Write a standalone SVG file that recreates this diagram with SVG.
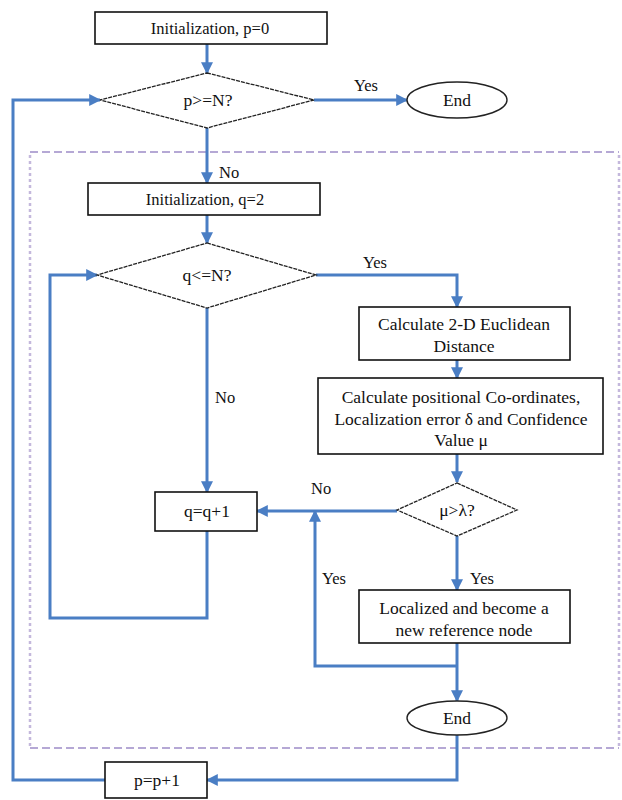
<svg xmlns="http://www.w3.org/2000/svg" width="622" height="800" viewBox="0 0 622 800">
<defs>
<style>
.n{fill:#fff;stroke:#111;stroke-width:1.6}
.d{fill:#fff;stroke:#222;stroke-width:1.3;stroke-dasharray:4 1}
.e{fill:#fff;stroke:#222;stroke-width:1.4}
.t{font-size:17.5px;fill:#111;text-anchor:middle}
.s{font-size:16.5px;fill:#111;text-anchor:middle}
.l{font-size:16.5px;fill:#111}
.a{fill:none;stroke:#4a7ec4;stroke-width:3;marker-end:url(#ah)}
.bh{fill:none;stroke:#9d8cc8;stroke-width:1.5;stroke-dasharray:8 4}
.bv{fill:none;stroke:#c4b8dc;stroke-width:2.5;stroke-dasharray:3 3}
</style>
<marker id="ah" viewBox="0 0 10 10" refX="9" refY="5" markerWidth="4" markerHeight="4" orient="auto" markerUnits="strokeWidth">
<path d="M0,0 L10,5 L0,10 z" fill="#4a7ec4"/>
</marker>
</defs>
<g id="boundary">
<line class="bh" x1="30" y1="152" x2="619" y2="152"/>
<line class="bh" x1="30" y1="748" x2="619" y2="748"/>
<line class="bv" x1="30" y1="155" x2="30" y2="746"/>
<line class="bv" x1="619" y1="155" x2="619" y2="746"/>
</g>
<g id="connectors">
<path class="a" d="M207,44 V73"/>
<path class="a" d="M314,100 H407"/>
<path class="a" d="M207,128 V183"/>
<path class="a" d="M207,215 V243"/>
<path class="a" d="M207,308 V492"/>
<path class="a" d="M316,275 H457 V307"/>
<path class="a" d="M457,360 V378"/>
<path class="a" d="M457,454 V482"/>
<path class="a" d="M397,511 H257"/>
<path class="a" d="M457,536 V590"/>
<path class="a" d="M457,643 V701"/>
<path class="a" d="M457,666 H315 V511"/>
<path class="a" d="M207,531 V618 H50 V275 H97"/>
<path class="a" d="M457,735 V780 H207"/>
<path class="a" d="M105,780 H13 V100 H100"/>
</g>
<g id="labels" font-family="Liberation Serif">
<text class="l" x="354" y="91">Yes</text>
<text class="l" x="219" y="178">No</text>
<text class="l" x="363" y="268">Yes</text>
<text class="l" x="215" y="403">No</text>
<text class="l" x="311" y="494">No</text>
<text class="l" x="470" y="584">Yes</text>
<text class="l" x="322" y="584">Yes</text>
</g>
<g id="init-p" font-family="Liberation Serif">
<rect class="n" x="95" y="12" width="232" height="32"/>
<text class="s" x="210" y="33.5">Initialization, p=0</text>
</g>
<g id="dec-p" font-family="Liberation Serif">
<polygon class="d" points="207,73 314,100 207,128 100,100"/>
<text class="t" x="208" y="106">p&gt;=N?</text>
</g>
<g id="end-1" font-family="Liberation Serif">
<ellipse class="e" cx="457" cy="100" rx="50" ry="18"/>
<text class="t" x="457" y="106">End</text>
</g>
<g id="init-q" font-family="Liberation Serif">
<rect class="n" x="88" y="183" width="232" height="32"/>
<text class="s" x="205" y="204.5">Initialization, q=2</text>
</g>
<g id="dec-q" font-family="Liberation Serif">
<polygon class="d" points="207,243 316,275 207,308 97,275"/>
<text class="t" x="207" y="281">q&lt;=N?</text>
</g>
<g id="calc-dist" font-family="Liberation Serif">
<rect class="n" x="359" y="307" width="211" height="53"/>
<text class="t" x="464" y="330">Calculate 2-D Euclidean</text>
<text class="t" x="464" y="352">Distance</text>
</g>
<g id="calc-pos" font-family="Liberation Serif">
<rect class="n" x="318" y="378" width="285" height="76"/>
<text class="t" x="461" y="403">Calculate positional Co-ordinates,</text>
<text class="t" x="461" y="424.5">Localization error &#948; and Confidence</text>
<text class="t" x="461" y="446">Value &#956;</text>
</g>
<g id="dec-mu" font-family="Liberation Serif">
<polygon class="d" points="457,483 517,510 457,536 397,510"/>
<text class="t" x="457" y="516">&#956;&gt;&#955;?</text>
</g>
<g id="q-inc" font-family="Liberation Serif">
<rect class="n" x="155" y="492" width="102" height="39"/>
<text class="t" x="207" y="517">q=q+1</text>
</g>
<g id="localized" font-family="Liberation Serif">
<rect class="n" x="359" y="590" width="211" height="53"/>
<text class="t" x="464" y="614">Localized and become a</text>
<text class="t" x="464" y="636">new reference node</text>
</g>
<g id="end-2" font-family="Liberation Serif">
<ellipse class="e" cx="457" cy="718" rx="50" ry="17"/>
<text class="t" x="457" y="724">End</text>
</g>
<g id="p-inc" font-family="Liberation Serif">
<rect class="n" x="105" y="762" width="102" height="36"/>
<text class="t" x="157" y="786">p=p+1</text>
</g>
</svg>
